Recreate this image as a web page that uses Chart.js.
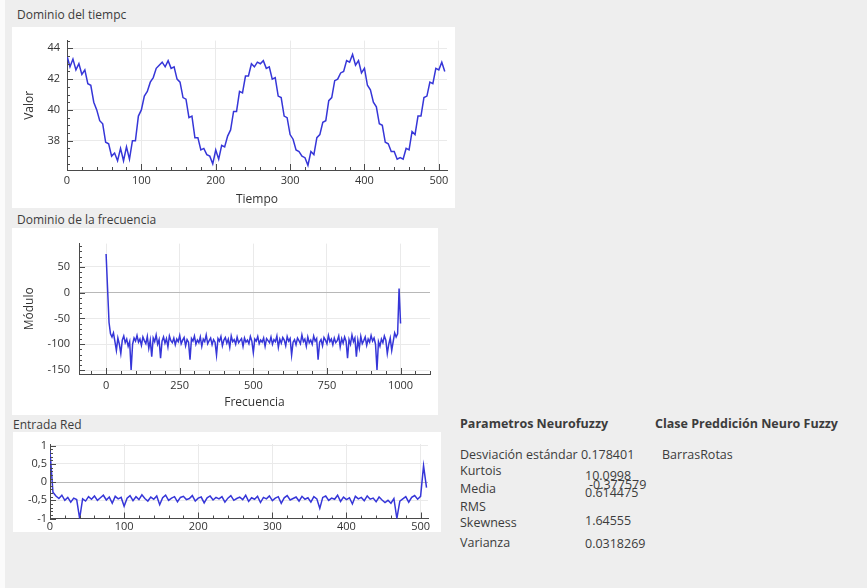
<!DOCTYPE html>
<html>
<head>
<meta charset="utf-8">
<script src="https://cdn.jsdelivr.net/npm/chart.js@4.4.1/dist/chart.umd.min.js"></script>
<style>
  html, body { margin: 0; padding: 0; }
  body {
    width: 867px; height: 588px; position: relative; overflow: hidden;
    background: #eeeeee; font-family: "Open Sans", "Noto Sans", sans-serif; color: #3c3c3c;
  }
  .edge { position: absolute; left: 0; top: 0; width: 5px; height: 588px; background: #fbfbfb; }
  .panel { position: absolute; background: #ffffff; }
  .panel canvas { display: block; }
  .t { position: absolute; font-size: 12.5px; line-height: 15px; white-space: nowrap; }
  .cap { position: absolute; font-size: 12px; line-height: 14px; white-space: nowrap; }
  .b { font-weight: bold; }
</style>
</head>
<body>
<div class="edge"></div>

<div class="cap" style="left:17px;top:8px">Dominio del tiempc</div>
<div class="panel" style="left:12px;top:27px;width:443px;height:181px"><canvas id="timeChart" width="443" height="181"></canvas></div>

<div class="cap" style="left:17px;top:213px">Dominio de la frecuencia</div>
<div class="panel" style="left:12px;top:228px;width:426px;height:187px"><canvas id="freqChart" width="426" height="187"></canvas></div>

<div class="cap" style="left:13px;top:418px">Entrada Red</div>
<div class="panel" style="left:13px;top:432px;width:428px;height:100px"><canvas id="netChart" width="428" height="100"></canvas></div>

<div class="t b" style="left:460px;top:416px">Parametros Neurofuzzy</div>
<div class="t b" style="left:655px;top:416px">Clase Preddición Neuro Fuzzy</div>
<div class="t" style="left:460px;top:447px">Desviación estándar 0.178401</div>
<div class="t" style="left:662px;top:447px">BarrasRotas</div>
<div class="t" style="left:460px;top:463px">Kurtois</div>
<div class="t" style="left:585px;top:468px">10.0998</div>
<div class="t" style="left:460px;top:481px">Media</div>
<div class="t" style="left:589px;top:477px">-0.377579</div>
<div class="t" style="left:585px;top:485px">0.614475</div>
<div class="t" style="left:460px;top:499px">RMS</div>
<div class="t" style="left:460px;top:515px">Skewness</div>
<div class="t" style="left:585px;top:513px">1.64555</div>
<div class="t" style="left:460px;top:535px">Varianza</div>
<div class="t" style="left:585px;top:536px">0.0318269</div>

<script>
// Time-domain signal, one value every 4 samples (t = 0 .. 508)
const timeStep = 4;
const timeValues = [
  43.5, 42.8, 43.3, 42.6, 43.0, 42.3, 42.6, 41.7, 41.6, 40.5,
  40.0, 39.3, 39.1, 37.9, 37.8, 37.0, 37.2, 36.7, 37.5, 36.7,
  37.6, 36.8, 38.0, 38.0, 39.6, 40.0, 40.9, 41.2, 41.8, 42.1,
  42.7, 42.9, 43.1, 42.8, 43.2, 42.7, 42.8, 42.0, 41.8, 40.8,
  40.7, 39.5, 39.6, 38.2, 38.2, 37.4, 37.5, 37.1, 37.0, 36.5,
  37.4, 36.8, 37.7, 37.6, 38.3, 38.7, 39.9, 39.9, 41.2, 41.1,
  42.2, 42.2, 43.0, 42.8, 43.1, 43.0, 43.2, 42.7, 42.8, 42.0,
  42.1, 40.9, 40.8, 39.6, 39.5, 38.4, 38.1, 37.4, 37.3, 37.0,
  36.9, 36.4, 37.3, 37.1, 38.2, 38.4, 39.2, 39.3, 40.6, 40.8,
  41.9, 42.0, 42.4, 42.5, 43.2, 43.1, 43.6, 42.9, 43.2, 42.4,
  42.7, 41.6, 41.3, 40.5, 40.2, 39.1, 39.0, 37.9, 37.8, 37.3,
  37.3, 36.8, 36.9, 36.8, 37.5, 37.4, 38.6, 38.4, 39.6, 39.6,
  40.8, 40.9, 41.8, 41.7, 42.7, 42.6, 43.1, 42.5
];
const timeXTicks = [0, 100, 200, 300, 400, 500];
const timeYTicks = [38, 40, 42, 44];

// Spectrum magnitude, one value every 5 bins (f = 0 .. 1000)
const freqStep = 5;
const freqValues = [
  75, 8, -58, -80, -86, -78, -95, -112, -88, -100,
  -118, -92, -84, -97, -90, -104, -95, -150, -100, -88,
  -94, -83, -96, -90, -102, -86, -93, -99, -85, -108,
  -92, -124, -88, -95, -82, -100, -91, -127, -94, -86,
  -98, -89, -105, -84, -93, -97, -88, -101, -90, -95,
  -83, -99, -92, -87, -103, -91, -96, -130, -89, -94,
  -84, -100, -92, -97, -86, -104, -90, -95, -82, -99,
  -93, -88, -101, -91, -96, -121, -89, -94, -85, -103,
  -92, -87, -98, -90, -106, -84, -95, -91, -100, -86,
  -97, -93, -89, -104, -88, -96, -92, -99, -85, -94,
  -116, -90,
  -94, -85, -99, -92, -96, -88, -104, -89, -93, -97,
  -86, -100, -91, -95, -84, -106, -90, -98, -87, -92,
  -103, -85, -94, -89, -121, -96, -91, -101, -88, -93,
  -99, -82, -95, -90, -104, -86, -97, -92, -100, -84,
  -94, -89, -130, -96, -91, -103, -87, -92, -99, -83,
  -95, -90, -101, -88, -97, -93, -84, -105, -89, -98,
  -86, -94, -127, -91, -100, -82, -95, -88, -124, -92,
  -108, -85, -99, -93, -86, -102, -90, -96, -83, -94,
  -88, -100, -150, -95, -104, -90, -97, -84, -92, -118,
  -100, -88, -112, -95, -78, -86, -80,
  8, -60
];
const freqXTicks = [0, 250, 500, 750, 1000];
const freqYTicks = [-150, -100, -50, 0, 50];

// Normalised network input, one value every 4 samples (0 .. 508)
const netStep = 4;
const netInputValues = [
  0.85, -0.28, -0.38, -0.45, -0.36, -0.50, -0.42, -0.55, -0.44, -0.48,
  -1.00, -0.46, -0.52, -0.40, -0.47, -0.38, -0.50, -0.43, -0.36, -0.49,
  -0.41, -0.58, -0.39, -0.46, -0.42, -0.66, -0.44, -0.37, -0.51, -0.40,
  -0.48, -0.35, -0.45, -0.52, -0.41, -0.47, -0.38, -0.62, -0.43, -0.36,
  -0.50, -0.44, -0.40, -0.54, -0.42, -0.39, -0.48, -0.45, -0.37, -0.52,
  -0.44, -0.41, -0.57, -0.43, -0.38, -0.49, -0.42, -0.46, -0.40, -0.55,
  -0.44, -0.37, -0.50, -0.45, -0.41, -0.48, -0.36, -0.53, -0.43, -0.47,
  -0.39, -0.56, -0.42, -0.46, -0.38, -0.51, -0.44, -0.40, -0.58, -0.43,
  -0.37, -0.49, -0.45, -0.41, -0.52, -0.39, -0.47, -0.43, -0.55, -0.40,
  -0.46, -0.72, -0.42, -0.38, -0.50, -0.44, -0.47, -0.36, -0.53, -0.41,
  -0.48, -0.43, -0.60, -0.39, -0.46, -0.42, -0.51, -0.38, -0.47, -0.44,
  -0.54, -0.41, -0.49, -0.56, -0.50, -0.58, -0.45, -1.00, -0.52, -0.46,
  -0.40, -0.55, -0.42, -0.37, -0.47, -0.39, 0.45, -0.15
];
const netXTicks = [0, 100, 200, 300, 400, 500];
const netYTicks = [-1, -0.5, 0, 0.5, 1];

const LINE_COLOR = '#3636d8';
const GRID_COLOR = '#eaeaea';
const ZERO_COLOR = '#b8b8b8';
const AXIS_COLOR = '#4a4a4a';
const TEXT_COLOR = '#333333';
const FONT = '"Open Sans", "Noto Sans", sans-serif';

const toPoints = (values, step) => values.map((v, i) => ({ x: i * step, y: v }));

// short inward tick marks along both axes (major + minor)
const axisTicks = {
  id: 'axisTicks',
  afterDatasetsDraw(chart, args, opts) {
    const { ctx, chartArea: a } = chart;
    ctx.save();
    ctx.strokeStyle = AXIS_COLOR;
    ctx.lineWidth = 1;
    const mark = (scale, step, len) => {
      const first = Math.ceil(scale.min / step - 1e-9);
      const last = Math.floor(scale.max / step + 1e-9);
      for (let k = first; k <= last; k++) {
        const p = Math.round(scale.getPixelForValue(k * step)) + 0.5;
        ctx.beginPath();
        if (scale.isHorizontal()) {
          ctx.moveTo(p, a.bottom);
          ctx.lineTo(p, a.bottom - len);
        } else {
          ctx.moveTo(a.left, p);
          ctx.lineTo(a.left + len, p);
        }
        ctx.stroke();
      }
    };
    mark(chart.scales.x, opts.xMinor, 3);
    mark(chart.scales.x, opts.xMajor, 6);
    mark(chart.scales.y, opts.yMinor, 3);
    mark(chart.scales.y, opts.yMajor, 6);
    ctx.restore();
  }
};

function axis(o) {
  return {
    type: 'linear',
    min: o.min, max: o.max,
    afterFit: s => { if (s.isHorizontal()) s.height = o.size; else s.width = o.size; },
    afterBuildTicks: s => { s.ticks = o.ticks.map(v => ({ value: v })); },
    ticks: {
      autoSkip: false, maxRotation: 0, includeBounds: false,
      padding: o.pad, color: TEXT_COLOR,
      font: { family: FONT, size: 11 },
      callback: o.format || (v => String(v))
    },
    grid: {
      drawTicks: false,
      color: c => (o.zero && c.tick && c.tick.value === 0) ? ZERO_COLOR : GRID_COLOR
    },
    border: { display: true, color: AXIS_COLOR, width: 1 },
    title: o.title ? {
      display: true, text: o.title, color: TEXT_COLOR,
      font: { family: FONT, size: 12 }, padding: o.titlePad
    } : { display: false }
  };
}

function makeChart(id, points, padding, x, y, marks) {
  return new Chart(document.getElementById(id), {
    type: 'line',
    data: {
      datasets: [{
        data: points, borderColor: LINE_COLOR, borderWidth: 1.5,
        pointRadius: 0, tension: 0, fill: false
      }]
    },
    options: {
      responsive: false, animation: false, devicePixelRatio: 1,
      layout: { padding },
      plugins: { legend: { display: false }, tooltip: { enabled: false }, axisTicks: marks },
      scales: { x: axis(x), y: axis(y) }
    },
    plugins: [axisTicks]
  });
}

makeChart('timeChart', toPoints(timeValues, timeStep),
  { top: 11, right: 8, left: 0, bottom: 0 },
  { min: 0, max: 511, ticks: timeXTicks, size: 38, pad: 4.5, title: 'Tiempo', titlePad: { top: 0, bottom: 1 } },
  { min: 36.1, max: 44.5, ticks: timeYTicks, size: 55, pad: 7, title: 'Valor', titlePad: { top: 10, bottom: 0 } },
  { xMajor: 100, xMinor: 20, yMajor: 2, yMinor: 0.5 });

makeChart('freqChart', toPoints(freqValues, freqStep),
  { top: 15, right: 8, left: 0, bottom: 0 },
  { min: -92, max: 1100, ticks: freqXTicks, size: 41, pad: 5.5, title: 'Frecuencia', titlePad: { top: 0, bottom: 5 } },
  { min: -157.7, max: 95, ticks: freqYTicks, size: 67, pad: 9, zero: true, title: 'Módulo', titlePad: { top: 10, bottom: 0 } },
  { xMajor: 250, xMinor: 50, yMajor: 50, yMinor: 10 });

makeChart('netChart', toPoints(netInputValues, netStep),
  { top: 12, right: 13, left: 0, bottom: 0 },
  { min: 0, max: 510, ticks: netXTicks, size: 13.5, pad: 1.5 },
  { min: -1, max: 1.05, ticks: netYTicks, size: 37, pad: 3, zero: true,
    format: v => String(v).replace('.', ',') },
  { xMajor: 100, xMinor: 20, yMajor: 0.5, yMinor: 0.1 });
</script>
</body>
</html>
